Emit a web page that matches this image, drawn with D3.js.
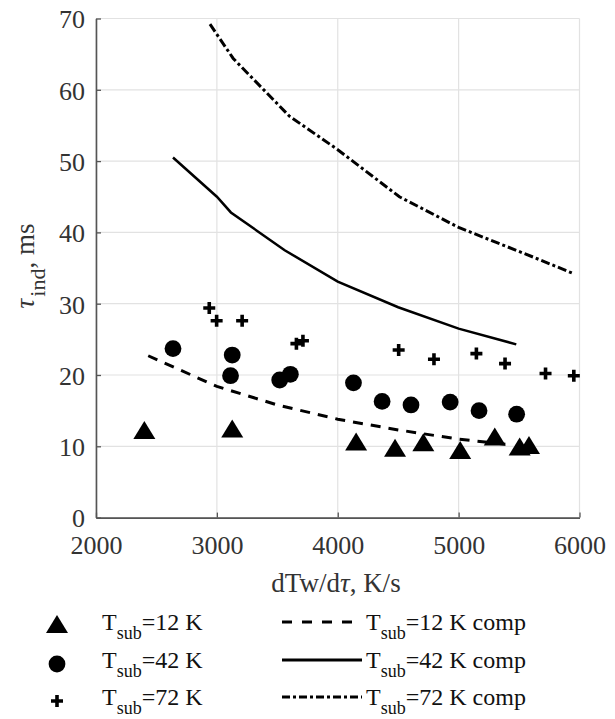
<!DOCTYPE html>
<html><head><meta charset="utf-8">
<script src="https://cdn.jsdelivr.net/npm/d3@7"></script>
<style>body{margin:0;background:#fff}svg{display:block}</style>
</head><body><div id="chart"></div>
<script>
// Experimental data (dTw/dτ in K/s, τ_ind in ms)
const tri12x = [2400, 3127, 4152, 4474, 4708, 5013, 5299, 5505, 5582];
const tri12y = [12.0, 12.2, 10.4, 9.5, 10.3, 9.2, 11.1, 9.7, 9.9];
const circ42x = [2637, 3127, 3113, 3520, 3608, 4130, 4367, 4606, 4930, 5169, 5480];
const circ42y = [23.7, 22.8, 19.9, 19.3, 20.1, 18.9, 16.3, 15.8, 16.2, 15.0, 14.5];
const plus72x = [2937, 2998, 3209, 3658, 3712, 4504, 4796, 5147, 5384, 5719, 5953];
const plus72y = [29.4, 27.6, 27.6, 24.4, 24.8, 23.5, 22.2, 23.0, 21.6, 20.2, 19.9];
// Computed curves
const comp12x = [2432, 3000, 3500, 4000, 4500, 5000, 5444];
const comp12y = [22.7, 18.4, 15.8, 13.8, 12.3, 11.0, 10.2];
const comp42x = [2637, 3000, 3116, 3561, 4000, 4500, 5000, 5477];
const comp42y = [50.5, 45.0, 42.8, 37.5, 33.1, 29.5, 26.5, 24.3];
const comp72x = [2943, 3135, 3600, 4000, 4510, 5000, 5637, 5953];
const comp72y = [69.2, 64.4, 56.3, 51.6, 45.0, 40.7, 36.4, 34.2];
const xTicks = [2000, 3000, 4000, 5000, 6000];
const yTicks = [0, 10, 20, 30, 40, 50, 60, 70];
const legendLeft = ["12", "42", "72"];

const W = 615, H = 719;
const svg = d3.select("#chart").append("svg").attr("width", W).attr("height", H);
const font = "'Liberation Serif','Times New Roman',serif";
const x = d3.scaleLinear().domain([2000, 6000]).range([96, 579.5]);
const y = d3.scaleLinear().domain([0, 70]).range([517.6, 18.5]);

// grid
const g = svg.append("g");
g.selectAll(".vg").data(xTicks).join("line")
  .attr("x1", d => x(d)).attr("x2", d => x(d)).attr("y1", y(70)).attr("y2", y(0))
  .attr("stroke", "#e2e2e2").attr("stroke-width", 1.2);
g.selectAll(".hg").data(yTicks).join("line")
  .attr("x1", x(2000)).attr("x2", x(6000)).attr("y1", d => y(d)).attr("y2", d => y(d))
  .attr("stroke", "#e2e2e2").attr("stroke-width", 1.2);

// axes
const xAxis = d3.axisBottom(x).tickValues(xTicks).tickSizeInner(-5).tickSizeOuter(0).tickPadding(18).tickFormat(d3.format("d"));
const yAxis = d3.axisLeft(y).tickValues(yTicks).tickSizeInner(-5).tickSizeOuter(0).tickPadding(11);
const gx = svg.append("g").attr("transform", `translate(0,${y(0)})`).call(xAxis);
const gy = svg.append("g").attr("transform", `translate(${x(2000)},0)`).call(yAxis);
[gx, gy].forEach(a => {
  a.select(".domain").attr("stroke", "#555").attr("stroke-width", 1.6);
  a.selectAll(".tick line").attr("stroke", "#555").attr("stroke-width", 1.3);
  a.selectAll(".tick text").attr("fill", "#333").style("font-family", font).style("font-size", "26px");
});
gx.selectAll(".tick text").attr("dy", "0.71em");
gy.selectAll(".tick text").attr("dy", "0.36em");

// axis labels
const xl = svg.append("text").attr("x", 336).attr("y", 592).attr("text-anchor", "middle")
  .style("font-family", font).style("font-size", "27px").attr("fill", "#333");
xl.append("tspan").text("dTw/d");
xl.append("tspan").style("font-style", "italic").text("τ");
xl.append("tspan").text(", K/s");

const yl = svg.append("text").attr("transform", "translate(34,266) rotate(-90)").attr("text-anchor", "middle")
  .style("font-family", font).style("font-size", "27px").attr("fill", "#333");
yl.append("tspan").style("font-style", "italic").text("τ");
yl.append("tspan").attr("dx", 2).attr("dy", 11).style("font-size", "22px").text("ind");
yl.append("tspan").attr("dy", -11).text(", ms");

// lines
const line = d3.line().x(d => x(d[0])).y(d => y(d[1]));
const curves = [
  {xs: comp12x, ys: comp12y, dash: "10,8", w: 3},
  {xs: comp42x, ys: comp42y, dash: null, w: 2.5},
  {xs: comp72x, ys: comp72y, dash: "9,3,3,3", w: 3}
];
curves.forEach(c => {
  svg.append("path").datum(c.xs.map((v, i) => [v, c.ys[i]])).attr("d", line)
    .attr("fill", "none").attr("stroke", "#000").attr("stroke-width", c.w)
    .attr("stroke-dasharray", c.dash);
});

// markers
function drawTri(sel, cx, cy) {
  sel.append("path").attr("d", "M0,-11L11,7L-11,7Z").attr("transform", `translate(${cx},${cy})`).attr("fill", "#000");
}
function drawCirc(sel, cx, cy) {
  sel.append("circle").attr("cx", cx).attr("cy", cy).attr("r", 8.4).attr("fill", "#000");
}
function drawPlus(sel, cx, cy) {
  sel.append("path").attr("d", "M-6,0H6M0,-6V6").attr("transform", `translate(${cx},${cy})`)
    .attr("stroke", "#000").attr("stroke-width", 3.6).attr("fill", "none");
}
const mk = svg.append("g");
tri12x.forEach((v, i) => drawTri(mk, x(v), y(tri12y[i])));
circ42x.forEach((v, i) => drawCirc(mk, x(v), y(circ42y[i])));
plus72x.forEach((v, i) => drawPlus(mk, x(v), y(plus72y[i])));

// legend
const rows = [626, 664, 701];
const drawers = [drawTri, drawCirc, drawPlus];
const legDash = ["10,10", null, "8,3,3,3"];
const lg = svg.append("g");
function legText(xp, yp, val, suffix) {
  const t = lg.append("text").attr("x", xp).attr("y", yp).style("font-family", font).style("font-size", "24px").attr("fill", "#111");
  t.append("tspan").text("T");
  t.append("tspan").attr("dy", 9).style("font-size", "18px").text("sub");
  t.append("tspan").attr("dy", -9).text("=" + val + " K" + suffix);
}
legendLeft.forEach((v, i) => {
  drawers[i](lg, 57, rows[i]);
  legText(102, rows[i] + 4, v, "");
  lg.append("line").attr("x1", 282).attr("x2", 362).attr("y1", rows[i] - 4).attr("y2", rows[i] - 4)
    .attr("stroke", "#000").attr("stroke-width", 3)
    .attr("stroke-dasharray", legDash[i]);
  legText(366, rows[i] + 4, v, " comp");
});
</script></body></html>
